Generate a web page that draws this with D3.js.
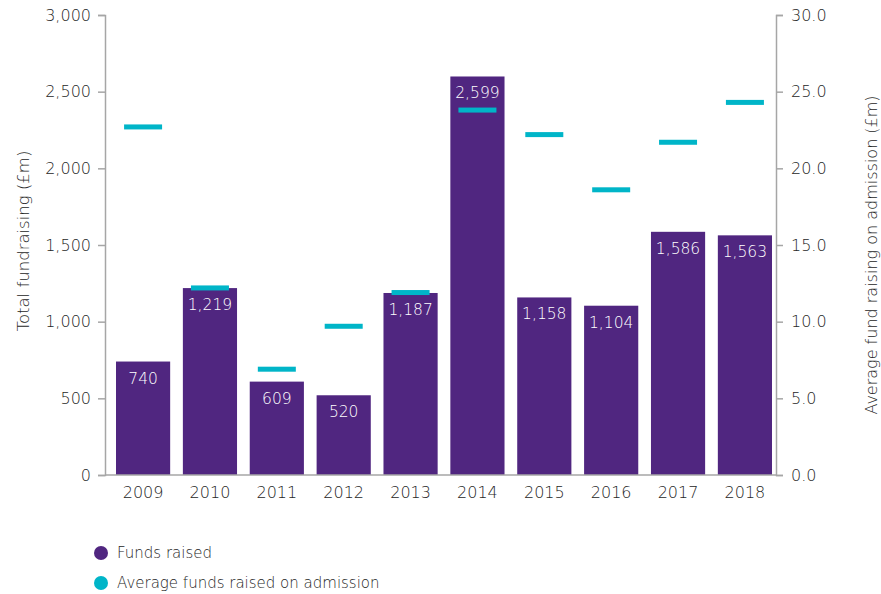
<!DOCTYPE html>
<html>
<head>
<meta charset="utf-8">
<script src="https://cdn.jsdelivr.net/npm/d3@7"></script>
<style>
  html, body { margin: 0; padding: 0; background: #fff; }
  text { font-family: "DejaVu Sans", sans-serif; font-weight: 300; }
</style>
</head>
<body>
<svg id="chart" width="881" height="594"></svg>
<script>
// Fundraising by year of admission
const years = ["2009", "2010", "2011", "2012", "2013", "2014", "2015", "2016", "2017", "2018"];
const fundsRaised = [740, 1219, 609, 520, 1187, 2599, 1158, 1104, 1586, 1563];
const avgOnAdmission = [22.7, 12.2, 6.9, 9.7, 11.9, 23.8, 22.2, 18.6, 21.7, 24.3];
const leftTicks = [0, 500, 1000, 1500, 2000, 2500, 3000];
const rightTicks = [0, 5, 10, 15, 20, 25, 30];
const legendLabels = ["Funds raised", "Average funds raised on admission"];

const purple = "#502680";
const cyan = "#00b5c8";
const axisGrey = "#a6a6a6";
const textColor = "#262626";
const fontFamily = "DejaVu Sans, sans-serif";

const svg = d3.select("#chart");
const plotTop = 15, plotBottom = 475, leftX = 105, rightX = 776;

const x = d3.scaleBand().domain(years).range([116, 772]).paddingInner(0.19).paddingOuter(0);
const yL = d3.scaleLinear().domain([0, 3000]).range([plotBottom, plotTop]);
const yR = d3.scaleLinear().domain([0, 30]).range([plotBottom, plotTop]);

// Bars
svg.append("g").selectAll("rect")
  .data(years)
  .join("rect")
  .attr("x", d => x(d))
  .attr("width", x.bandwidth())
  .attr("y", (d, i) => yL(fundsRaised[i]))
  .attr("height", (d, i) => plotBottom - yL(fundsRaised[i]))
  .attr("fill", purple);

// Value labels inside bars
svg.append("g").selectAll("text")
  .data(years)
  .join("text")
  .attr("x", d => x(d) + x.bandwidth() / 2)
  .attr("y", (d, i) => yL(fundsRaised[i]) + 22)
  .attr("text-anchor", "middle")
  .attr("fill", "#fff")
  .attr("font-size", 15.5)
  .text((d, i) => d3.format(",")(fundsRaised[i]));

// Average markers (right axis)
const markW = 38;
svg.append("g").selectAll("rect")
  .data(years)
  .join("rect")
  .attr("x", d => x(d) + x.bandwidth() / 2 - markW / 2)
  .attr("width", markW)
  .attr("y", (d, i) => yR(avgOnAdmission[i]) - 2.5)
  .attr("height", 5)
  .attr("fill", cyan);

// Axes
const leftAxis = d3.axisLeft(yL).tickValues(leftTicks).tickFormat(d3.format(",")).tickSize(7).tickPadding(7);
const rightAxis = d3.axisRight(yR).tickValues(rightTicks).tickFormat(d3.format(".1f")).tickSize(7).tickPadding(8);
const xAxis = d3.axisBottom(x).tickSize(0).tickPadding(12);

function styleAxis(g) {
  g.select(".domain").attr("stroke", axisGrey).attr("stroke-width", 1.5);
  g.selectAll(".tick line").attr("stroke", axisGrey).attr("stroke-width", 1.5);
  g.selectAll(".tick text").attr("fill", textColor).attr("font-size", 16)
    .attr("font-family", fontFamily).attr("font-weight", 300);
}

svg.append("g").attr("transform", `translate(${leftX},0)`).call(leftAxis).call(styleAxis);
svg.append("g").attr("transform", `translate(${rightX},0)`).call(rightAxis).call(styleAxis);

// Baseline across the plot
svg.append("line")
  .attr("x1", leftX).attr("x2", rightX)
  .attr("y1", plotBottom).attr("y2", plotBottom)
  .attr("stroke", axisGrey).attr("stroke-width", 1.5);

const xg = svg.append("g").attr("transform", `translate(0,${plotBottom})`).call(xAxis).call(styleAxis);
xg.select(".domain").remove();

// Axis titles
svg.append("text")
  .attr("transform", "translate(29,241) rotate(-90)")
  .attr("text-anchor", "middle")
  .attr("fill", textColor)
  .attr("font-size", 16.5)
  .text("Total fundraising (£m)");

svg.append("text")
  .attr("transform", "translate(877,255) rotate(-90)")
  .attr("text-anchor", "middle")
  .attr("fill", textColor)
  .attr("font-size", 16)
  .text("Average fund raising on admission (£m)");

// Legend
const legend = svg.append("g").selectAll("g")
  .data(legendLabels)
  .join("g")
  .attr("transform", (d, i) => `translate(101,${553 + i * 30})`);
legend.append("circle").attr("r", 7).attr("fill", (d, i) => i === 0 ? purple : cyan);
legend.append("text")
  .attr("x", 16).attr("dy", "0.35em")
  .attr("fill", textColor)
  .attr("font-size", 15)
  .text(d => d);
</script>
</body>
</html>
